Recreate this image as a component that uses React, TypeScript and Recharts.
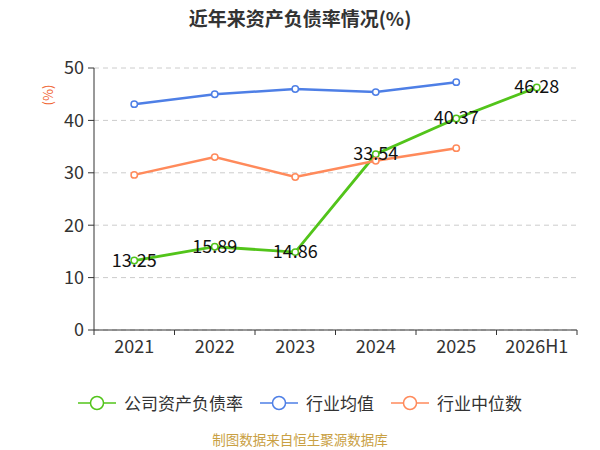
import React from "react";
import { LineChart, Line, XAxis, YAxis, CartesianGrid, LabelList } from "recharts";

const years = ["2021", "2022", "2023", "2024", "2025", "2026H1"];
const companyRate = [13.25, 15.89, 14.86, 33.54, 40.37, 46.28];
const industryAvg = [43.1, 45.0, 46.0, 45.4, 47.3, null];
const industryMedian = [29.6, 33.0, 29.2, 32.3, 34.7, null];
const yTicks = [0, 10, 20, 30, 40, 50];

const SERIES = [
  { key: "company", name: "公司资产负债率", color: "#52c41a" },
  { key: "avg", name: "行业均值", color: "#4e7fe6" },
  { key: "median", name: "行业中位数", color: "#ff8a5b" },
];

const W = 600;
const H = 450;
const X_AXIS_H = 30;
const MARGIN = { top: 68, right: 23, bottom: 120 - X_AXIS_H, left: 0 };
const Y_AXIS_W = 94;
const BAND = (W - MARGIN.left - MARGIN.right - Y_AXIS_W) / years.length;
const FONT = "'Noto Sans CJK SC', 'Noto Sans', sans-serif";

const data = years.map((year, i) => ({
  year,
  company: companyRate[i],
  avg: industryAvg[i],
  median: industryMedian[i],
}));

function XTick(props: any) {
  const { x, y, payload, index } = props;
  const axisY = y - 9;
  const last = index === years.length - 1;
  return (
    <g>
      <line x1={x - BAND / 2} y1={axisY} x2={x - BAND / 2} y2={axisY + 5} stroke="#333" />
      {last && <line x1={x + BAND / 2} y1={axisY} x2={x + BAND / 2} y2={axisY + 5} stroke="#333" />}
      <text x={x} y={y} dy="0.8em" textAnchor="middle" fill="#333" fontSize={18} fontFamily={FONT}>
        {payload.value}
      </text>
    </g>
  );
}

function PointLabel(props: any) {
  const { x, y, value } = props;
  return (
    <text x={x} y={y} dy={-2} textAnchor="middle" dominantBaseline="central" fill="#111" fontSize={18} fontFamily={FONT}>
      {value}
    </text>
  );
}

function LegendBox() {
  return (
    <div style={{ display: "flex", justifyContent: "center", gap: 17, fontSize: 17, color: "#333" }}>
      {SERIES.map((s) => (
        <div key={s.key} style={{ display: "flex", alignItems: "center" }}>
          <svg width={38} height={16} style={{ marginRight: 8 }}>
            <line x1={0} y1={8} x2={38} y2={8} stroke={s.color} strokeWidth={1.5} />
            <circle cx={19} cy={8} r={6.5} fill="#fff" stroke={s.color} strokeWidth={1.5} />
          </svg>
          <span>{s.name}</span>
        </div>
      ))}
    </div>
  );
}

export default function App() {
  return (
    <div style={{ position: "absolute", left: 0, top: 0, width: W, height: H, background: "#fff", fontFamily: FONT }}>
      <div style={{ position: "absolute", top: 4, width: W, textAlign: "center", fontSize: 19, fontWeight: "bold", color: "#333" }}>
        近年来资产负债率情况(%)
      </div>
      <LineChart width={W} height={H} data={data} margin={MARGIN}>
        <CartesianGrid vertical={false} stroke="#ccc" strokeDasharray="5 4" />
        <XAxis
          dataKey="year"
          scale="band"
          height={X_AXIS_H}
          stroke="#333"
          tickLine={false}
          tick={<XTick />}
          tickMargin={4}
          tickSize={5}
          interval={0}
        />
        <YAxis
          width={Y_AXIS_W}
          domain={[0, 50]}
          ticks={yTicks}
          stroke="#333"
          tickSize={6}
          tickMargin={4}
          tick={{ fill: "#333", fontSize: 18, fontFamily: FONT }}
          label={{
            content: (p: any) => (
              <text
                x={p.viewBox.x + 47}
                y={p.viewBox.y + 27}
                transform={`rotate(-90 ${p.viewBox.x + 47} ${p.viewBox.y + 27})`}
                textAnchor="middle"
                dominantBaseline="central"
                fill="#f0622e"
                fontSize={13}
                fontFamily={FONT}
              >
                (%)
              </text>
            ),
          }}
        />
        <Line
          dataKey="company"
          name={SERIES[0].name}
          stroke={SERIES[0].color}
          strokeWidth={2.8}
          dot={{ r: 3.2, fill: "#fff", stroke: SERIES[0].color, strokeWidth: 1.5 }}
          isAnimationActive={false}
        />
        <Line
          dataKey="avg"
          name={SERIES[1].name}
          stroke={SERIES[1].color}
          strokeWidth={2.5}
          dot={{ r: 3.2, fill: "#fff", stroke: SERIES[1].color, strokeWidth: 1.5 }}
          isAnimationActive={false}
        />
        <Line
          dataKey="median"
          name={SERIES[2].name}
          stroke={SERIES[2].color}
          strokeWidth={2.5}
          dot={{ r: 3.2, fill: "#fff", stroke: SERIES[2].color, strokeWidth: 1.5 }}
          isAnimationActive={false}
        />
        <Line dataKey="company" stroke="none" dot={false} legendType="none" isAnimationActive={false}>
          <LabelList dataKey="company" content={<PointLabel />} />
        </Line>
      </LineChart>
      <div style={{ position: "absolute", top: 390, left: 0, width: W }}>
        <LegendBox />
      </div>
      <div style={{ position: "absolute", top: 430, width: W, textAlign: "center", fontSize: 13.5, lineHeight: "18px", color: "#c9a043" }}>
        制图数据来自恒生聚源数据库
      </div>
    </div>
  );
}
